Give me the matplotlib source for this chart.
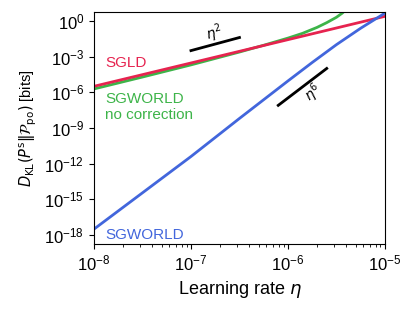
import matplotlib
matplotlib.use('Agg')
import matplotlib.pyplot as plt
import numpy as np

plt.rcParams['font.family'] = ['Liberation Sans', 'DejaVu Sans']
plt.rcParams['mathtext.fontset'] = 'dejavusans'

# values, as log10
log_eta_sgld = [-8.0, -5.0]
log_kl_sgld = [-5.5, 0.38]

log_eta_nocorr = [-8.0, -7.5, -7.0, -6.5, -6.25, -6.0, -5.85, -5.7, -5.6, -5.5, -5.44, -5.38]
log_kl_nocorr = [-5.72, -4.72, -3.7, -2.62, -2.05, -1.45, -1.05, -0.55, -0.15, 0.3, 0.65, 1.1]

log_eta_world = [-8.0, -7.5, -7.0, -6.5, -6.0, -5.75, -5.5, -5.25, -5.0]
log_kl_world = [-17.5, -14.45, -11.4, -8.2, -5.05, -3.5, -2.0, -0.62, 0.65]

red = '#e6234f'
green = '#3db449'
blue = '#4266dc'

fig = plt.figure(figsize=(4.15, 3.14), dpi=100)
ax = fig.add_axes([0.2265, 0.223, 0.701, 0.739])

ax.plot(10 ** np.array(log_eta_nocorr), 10 ** np.array(log_kl_nocorr), color=green, lw=2)
ax.plot(10 ** np.array(log_eta_sgld), 10 ** np.array(log_kl_sgld), color=red, lw=2)
ax.plot(10 ** np.array(log_eta_world), 10 ** np.array(log_kl_world), color=blue, lw=2)

# slope guides
ax.plot([10 ** -7.0, 10 ** -6.5], [10 ** -2.5, 10 ** -1.4], color='k', lw=2)
ax.text(10 ** -6.76, 10 ** -1.03, r'$\eta^2$', rotation=15, ha='center', va='center', fontsize=10)
ax.plot([10 ** -6.1, 10 ** -5.6], [10 ** -7.1, 10 ** -4.0], color='k', lw=2)
ax.text(10 ** -5.74, 10 ** -6.07, r'$\eta^6$', rotation=37, ha='center', va='center', fontsize=10)

ax.text(0.038, 0.78, 'SGLD', color=red, transform=ax.transAxes, va='center', fontsize=11)
ax.text(0.038, 0.624, 'SGWORLD', color=green, transform=ax.transAxes, va='center', fontsize=11)
ax.text(0.038, 0.556, 'no correction', color=green, transform=ax.transAxes, va='center', fontsize=11)
ax.text(0.038, 0.038, 'SGWORLD', color=blue, transform=ax.transAxes, va='center', fontsize=11)

ax.set_xscale('log')
ax.set_yscale('log')
ax.set_xlim(1e-8, 1e-5)
ax.set_ylim(10 ** -18.75, 10 ** 0.75)
ax.set_xticks([1e-8, 1e-7, 1e-6, 1e-5])
ax.set_yticks([10.0 ** k for k in range(-18, 1, 3)])
ax.yaxis.set_minor_locator(matplotlib.ticker.NullLocator())
ax.tick_params(labelsize=12, direction='out')

ax.set_xlabel(r'Learning rate $\eta$', fontsize=13)
ax.set_ylabel(r'$D_{\mathrm{KL}}(P^{\mathrm{s}}\|\mathcal{P}_{\mathrm{po}})$ [bits]', fontsize=10.5)

plt.savefig('out.png', dpi=100)
